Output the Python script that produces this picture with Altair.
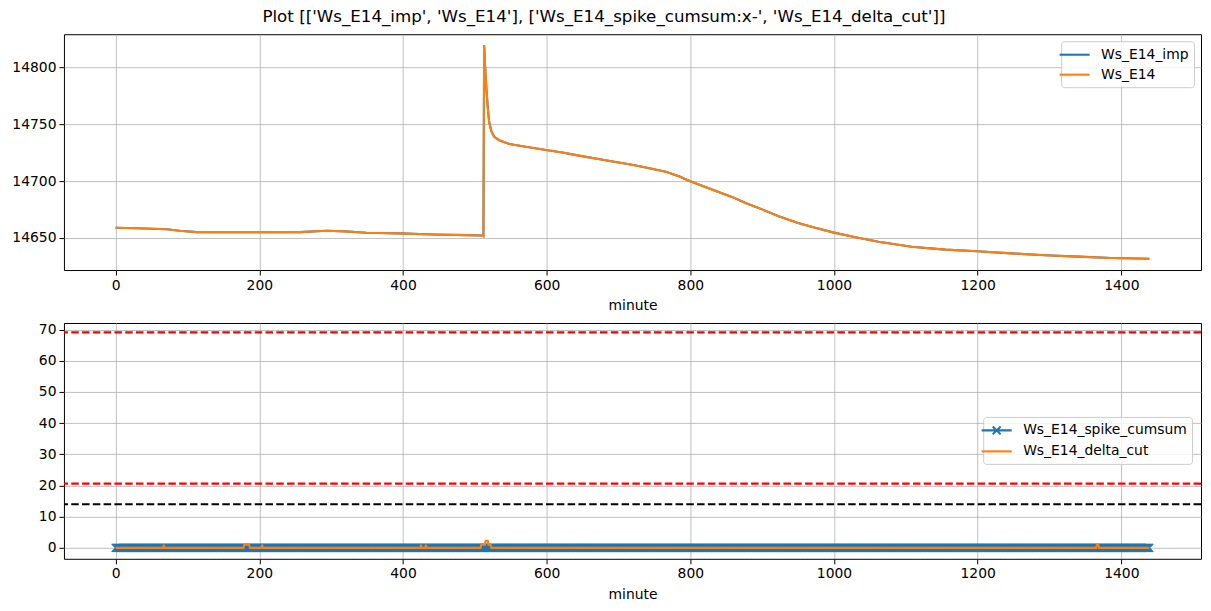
import altair as alt
import pandas as pd

# ---------------- data ----------------
minutes_top = [0, 30, 71, 89, 113, 160, 201, 256, 294, 320, 349, 395, 442, 488, 509, 511,
               512, 513, 514, 516, 518, 520, 523, 527, 534, 548, 571, 599, 622, 645, 670,
               692, 719, 738, 766, 785, 799, 831, 858, 877, 900, 923, 950, 975, 1000, 1030, 1062,
               1108, 1155, 1199, 1247, 1294, 1340, 1386, 1439]
ws_e14 = [14658.8, 14658.4, 14657.5, 14656.1, 14654.9, 14654.9, 14654.9, 14654.9, 14656.2,
          14655.6, 14654.4, 14653.8, 14652.9, 14652.3, 14652.0, 14651.8,
          14651.5, 14820.0, 14805.0, 14783.0, 14765.0, 14752.0, 14744.0, 14739.0, 14736.0,
          14732.7, 14730.3, 14727.4, 14725.2, 14722.4, 14719.6,
          14717.2, 14714.4, 14711.9, 14708.2, 14704.0, 14700.0, 14692.4, 14686.0, 14680.7,
          14675.0, 14669.0, 14663.0, 14658.5, 14654.5, 14650.5, 14646.5,
          14642.1, 14639.5, 14638.0, 14636.2, 14634.5, 14633.3, 14632.1, 14631.5]
ws_e14_imp = list(ws_e14)

delta_minutes = [0, 66, 67, 68, 178, 179, 186, 187, 203, 204, 205, 424, 425, 426,
                 431, 432, 433, 508, 509, 514, 515, 518, 519, 522, 523,
                 1365, 1366, 1368, 1369, 1439]
delta_values = [0, 0, 1, 0, 0, 1, 1, 0, 0, 1, 0, 0, 1, 0,
                0, 1, 0, 0, 1, 1, 2.3, 2.3, 1, 1, 0,
                0, 1, 1, 0, 0]

cumsum_minutes = list(range(0, 1440))
cumsum_values = [0] * len(cumsum_minutes)

threshold_levels = [69.1, 20.6, 14.0]
threshold_colors = ["red", "red", "black"]

x_ticks = [0, 200, 400, 600, 800, 1000, 1200, 1400]
top_y_ticks = [14650, 14700, 14750, 14800]
bottom_y_ticks = [0, 10, 20, 30, 40, 50, 60, 70]

TITLE = "Plot [['Ws_E14_imp', 'Ws_E14'], ['Ws_E14_spike_cumsum:x-', 'Ws_E14_delta_cut']]"
BLUE = "#1f77b4"
ORANGE = "#ff7f0e"
FONT = "DejaVu Sans"
FS = 13.9
W, H = 1138, 236
LINE_PATH = "M-2.15,0L2.15,0"
X_LEGEND_PATH = "M-2.15,0L2.15,0M-0.57,-0.57L0.57,0.57M-0.57,0.57L0.57,-0.57"
X_MARKER = "M-1,-1L1,1M-1,1L1,-1"

x_scale = alt.Scale(domain=[-71.95, 1510.95], nice=False, zero=False)
x_axis = alt.Axis(values=x_ticks, format="d", title="minute")
X = alt.X("minute:Q", scale=x_scale, axis=x_axis)

LEG = dict(title=None, symbolType=LINE_PATH, symbolSize=196, symbolStrokeWidth=2.1,
           symbolOpacity=1, labelOffset=18, rowPadding=4, padding=5, labelLimit=400)

# ---------------- top panel ----------------
top_legend = alt.Legend(orient="top-right", offset=7, **LEG)
top_color = alt.Color("series:N",
                      scale=alt.Scale(domain=["Ws_E14_imp", "Ws_E14"], range=[BLUE, ORANGE]),
                      legend=top_legend)
top_y = alt.Y("value:Q", scale=alt.Scale(domain=[14621.5, 14829.5], nice=False, zero=False),
              axis=alt.Axis(values=top_y_ticks, format="d", title=None, minExtent=51, maxExtent=51))

df_imp = pd.DataFrame({"minute": minutes_top, "value": ws_e14_imp, "series": "Ws_E14_imp"})
df_raw = pd.DataFrame({"minute": minutes_top, "value": ws_e14, "series": "Ws_E14"})

line_imp = alt.Chart(df_imp).mark_line(strokeWidth=2.1).encode(x=X, y=top_y, color=top_color)
line_raw = alt.Chart(df_raw).mark_line(strokeWidth=2.1).encode(x=X, y=top_y, color=top_color)
top = alt.layer(line_imp, line_raw).properties(width=W, height=H)

# ---------------- bottom panel ----------------
bot_domain = ["Ws_E14_spike_cumsum", "Ws_E14_delta_cut"]
bot_legend = alt.Legend(orient="none", legendX=920, legendY=94, **LEG)
bot_color = alt.Color("series:N", scale=alt.Scale(domain=bot_domain, range=[BLUE, ORANGE]),
                      legend=bot_legend)
bot_shape = alt.Shape("series:N", scale=alt.Scale(domain=bot_domain,
                                                  range=[X_LEGEND_PATH, LINE_PATH]),
                      legend=bot_legend)
bot_y_scale = alt.Scale(domain=[-3.5, 72.1], nice=False, zero=False)
bot_y_axis = alt.Axis(values=bottom_y_ticks, format="d", title=None, minExtent=51, maxExtent=51)
bot_y = alt.Y("value:Q", scale=bot_y_scale, axis=bot_y_axis)

df_cum = pd.DataFrame({"minute": cumsum_minutes, "value": cumsum_values,
                       "series": "Ws_E14_spike_cumsum"})
df_delta = pd.DataFrame({"minute": delta_minutes, "value": delta_values,
                         "series": "Ws_E14_delta_cut"})
df_thr = pd.DataFrame({"level": threshold_levels, "c": threshold_colors})

cum_line = alt.Chart(df_cum).mark_line(strokeWidth=2.1).encode(x=X, y=bot_y, color=bot_color)
cum_pts = alt.Chart(df_cum).mark_point(shape=X_MARKER, filled=False, size=64,
                                       strokeWidth=1.3, opacity=1).encode(
    x=X, y=bot_y, color=alt.value(BLUE))
legend_pts = alt.Chart(df_cum.head(1)).mark_point(filled=False, size=16, opacity=0).encode(
    x=X, y=bot_y, color=bot_color, shape=bot_shape)
delta_line = alt.Chart(df_delta).mark_line(strokeWidth=2.1).encode(x=X, y=bot_y, color=bot_color)
rules = alt.Chart(df_thr).mark_rule(strokeWidth=2.1, strokeDash=[7.5, 3.3]).encode(
    y=alt.Y("level:Q", scale=bot_y_scale, axis=bot_y_axis),
    color=alt.Color("c:N", scale=None))

bottom = alt.layer(cum_line, cum_pts, legend_pts, delta_line, rules).properties(width=W, height=H)

chart = alt.vconcat(top, bottom, spacing=8).resolve_scale(
    color="independent", shape="independent").resolve_legend(
    color="independent", shape="independent").properties(
    title=alt.TitleParams(TITLE, fontSize=16.7, font=FONT, fontWeight="normal", anchor="middle",
                          color="black", offset=8, dx=-3),
    padding={"left": 3, "top": 0, "right": 0, "bottom": 0},
).configure(font=FONT).configure_view(stroke="black", strokeWidth=1).configure_axis(
    grid=True, gridColor="#b0b0b0", gridWidth=0.8, domain=False,
    tickColor="black", tickSize=5, tickWidth=1,
    labelFontSize=FS, labelColor="black", labelFont=FONT, labelPadding=3,
    titleFont=FONT, titleFontSize=FS, titleFontWeight="normal", titleColor="black",
    titlePadding=7,
).configure_legend(
    labelFont=FONT, labelFontSize=FS, labelColor="black",
    fillColor="rgba(255,255,255,0.8)", strokeColor="#cccccc", cornerRadius=3,
)

chart.save("out.html", embed_options={"renderer": "svg", "actions": False})
